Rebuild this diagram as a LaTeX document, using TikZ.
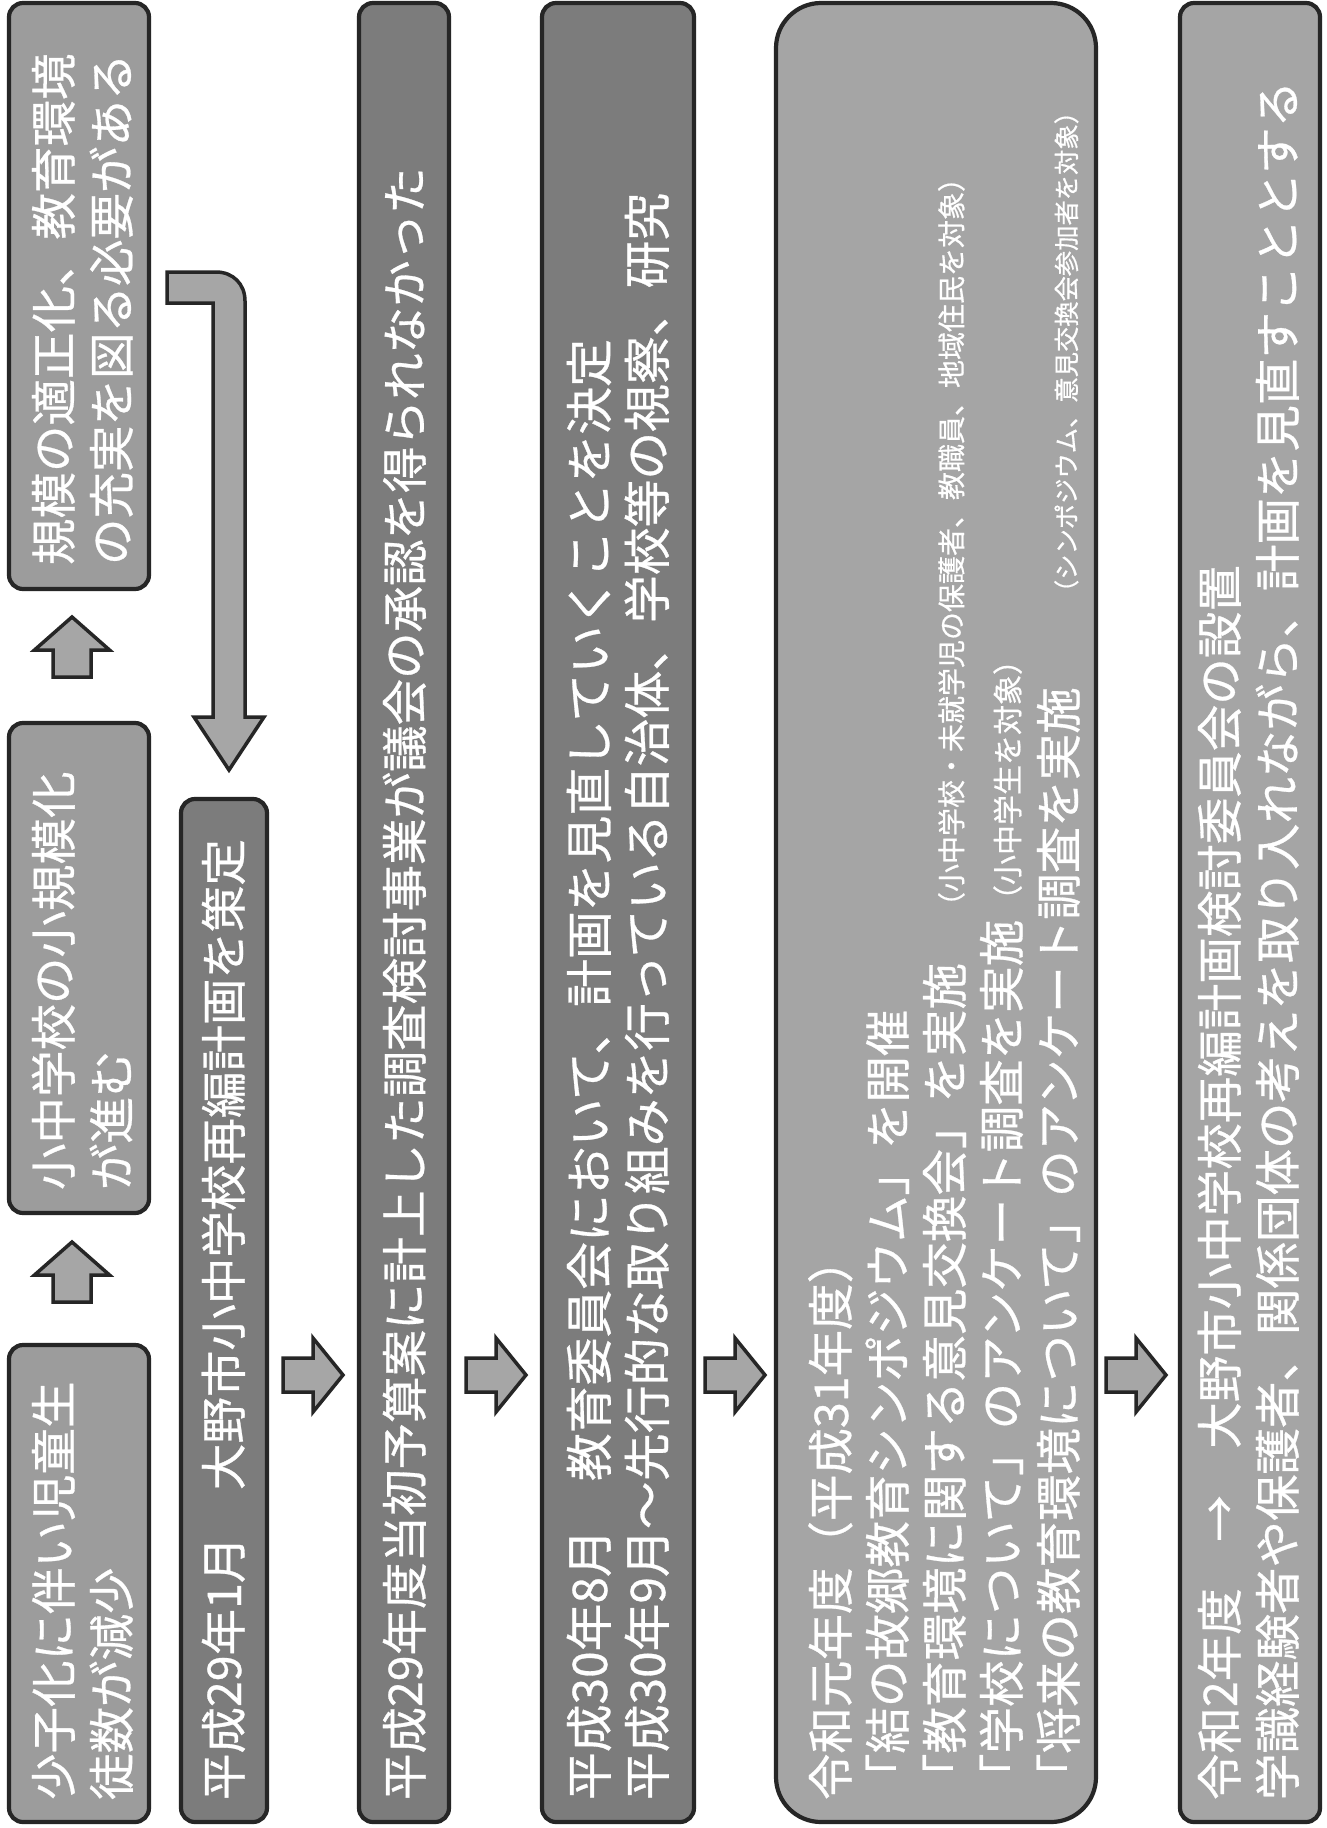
\documentclass[tikz,border=0pt]{standalone}
\usepackage{fontspec}
\newfontfamily\jpf[FakeBold=0.6]{Noto Sans CJK JP}
\usetikzlibrary{fit}
\definecolor{edge}{HTML}{262626}
\definecolor{lightbox}{HTML}{9C9C9C}
\definecolor{darkbox}{HTML}{7C7C7C}
\definecolor{palebox}{HTML}{A5A5A5}
\definecolor{arrowfill}{HTML}{A6A6A6}
\newcommand\jpbig{\jpf\fontsize{46.5}{56}\selectfont}
\newcommand\jpwide{\jpf\fontsize{47.8}{56}\selectfont}
\newcommand\jpsmall{\jpf\fontsize{28}{34}\selectfont}
\newcommand\jpsmallb{\jpf\fontsize{30}{36}\selectfont}
\newcommand\jpsmaller{\jpf\fontsize{25.3}{30}\selectfont}
\begin{document}
\begin{tikzpicture}[x=1pt,y=-1pt,
  box/.style={draw=edge, line width=4.2pt, rounded corners=14pt, inner sep=0pt, outer sep=0pt},
  txt/.style={rotate=90, anchor=base west, inner sep=0pt, outer sep=0pt, text=white, font=\jpbig},
  wtxt/.style={txt, font=\jpwide},
  stxt/.style={txt, font=\jpsmall},
  sbtxt/.style={txt, font=\jpsmallb},
  sstxt/.style={txt, font=\jpsmaller},
  blockarrow/.style={draw=edge, line width=3.5pt, fill=arrowfill, line join=miter},
  uparrow/.pic={\draw[blockarrow] (-19,0) -- (19,0) -- (19,-27) -- (37.5,-27) -- (0,-60) -- (-37.5,-27) -- (-19,-27) -- cycle;},
  rightarrow/.pic={\draw[blockarrow] (0,-17) -- (30,-17) -- (30,-37) -- (60,0) -- (30,37) -- (30,17) -- (0,17) -- cycle;}
]
\useasboundingbox (0,0) rectangle (1326,1828);
\fill[white] (0,0) rectangle (1326,1828);

% boxes
\node[box, fill=lightbox, fit={(9,1345) (149,1822)}] (A) {};
\node[box, fill=lightbox, fit={(9,723) (149,1213)}] (B) {};
\node[box, fill=lightbox, fit={(9,3) (149,589)}] (C) {};
\node[box, fill=darkbox, fit={(181,799) (267,1822)}] (D) {};
\node[box, fill=darkbox, fit={(359,3) (449,1822)}] (E) {};
\node[box, fill=darkbox, fit={(542,3) (694,1822)}] (F) {};
\node[box, fill=palebox, rounded corners=45pt, fit={(776,3) (1096,1822)}] (G) {};
\node[box, fill=palebox, fit={(1180,3) (1320,1822)}] (H) {};

% arrows
\pic at (72,1302) {uparrow};
\pic at (72,677) {uparrow};
\pic at (283,1375) {rightarrow};
\pic at (466,1375) {rightarrow};
\pic at (705,1375) {rightarrow};
\pic at (1106,1375) {rightarrow};
\draw[blockarrow] (167,272) -- (216,272) .. controls (233,272) and (245,284) .. (245,301)
  -- (245,717) -- (264,717) -- (229,770) -- (194,717) -- (213,717) -- (213,303) -- (167,303) -- cycle;

% texts
\node[txt] (tA1) at (71,1800) {少子化に伴い児童生};
\node[txt] (tA2) at (129,1800) {徒数が減少};
\node[txt] (tB1) at (71,1190) {小中学校の小規模化};
\node[txt] (tB2) at (129,1190) {が進む};
\node[txt] (tC1) at (71,565) {規模の適正化、教育環境};
\node[txt] (tC2) at (129,565) {の充実を図る必要がある};
\node[txt] (tD) at (241,1800) {平成29年1月　大野市小中学校再編計画を策定};
\node[txt] (tE) at (422,1800) {平成29年度当初予算案に計上した調査検討事業が議会の承認を得られなかった};
\node[wtxt] (tF1) at (607,1800) {平成30年8月};
\node[wtxt] (tF1b) at (607,1481) {教育委員会において、計画を見直していくことを決定};
\node[wtxt] (tF2) at (665,1800) {平成30年9月～};
\node[wtxt] (tF2b) at (665,1481) {先行的な取り組みを行っている自治体、学校等の視察、研究};
\node[txt] (tG1) at (848,1800) {令和元年度（平成31年度）};
\node[txt] (tG2) at (905,1800) {「結の故郷教育シンポジウム」を開催};
\node[txt] (tG3) at (962,1800) {「教育環境に関する意見交換会」を実施};
\node[stxt] (tG3s) at (962,920) {（小中学校・未就学児の保護者、教職員、地域住民を対象）};
\node[txt] (tG4) at (1019,1800) {「学校について」のアンケート調査を実施};
\node[sbtxt] (tG4s) at (1019,915) {（小中学生を対象）};
\node[txt] (tG5) at (1076,1800) {「将来の教育環境について」のアンケート調査を実施};
\node[sstxt] (tG5s) at (1076,605) {（シンポジウム、意見交換会参加者を対象）};
\node[txt] (tH1) at (1237,1800) {令和2年度　→　大野市小中学校再編計画検討委員会の設置};
\node[txt] (tH2) at (1295,1800) {学識経験者や保護者、関係団体の考えを取り入れながら、計画を見直すこととする};
\end{tikzpicture}
\end{document}
